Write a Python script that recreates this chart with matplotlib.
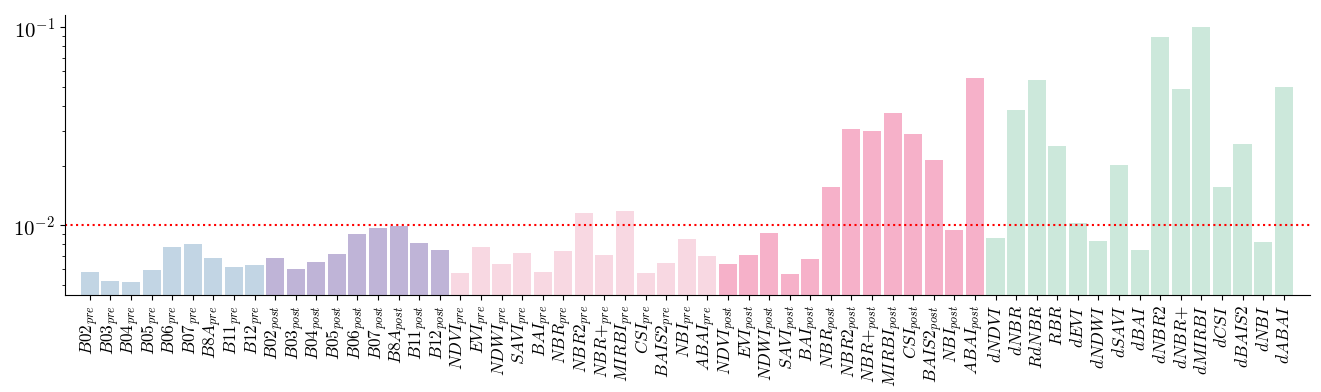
import numpy as np
import matplotlib
matplotlib.use('Agg')
import matplotlib.pyplot as plt

plt.rcParams['mathtext.fontset'] = 'cm'
plt.rcParams['font.family'] = 'serif'
plt.rcParams['font.serif'] = ['cmr10', 'DejaVu Serif']
plt.rcParams['axes.formatter.use_mathtext'] = True

bands = ['B02', 'B03', 'B04', 'B05', 'B06', 'B07', 'B8A', 'B11', 'B12']
indices = ['NDVI', 'EVI', 'NDWI', 'SAVI', 'BAI', 'NBR', 'NBR2', 'NBR+',
           'MIRBI', 'CSI', 'BAIS2', 'NBI', 'ABAI']
deltas = ['dNDVI', 'dNBR', 'RdNBR', 'RBR', 'dEVI', 'dNDWI', 'dSAVI', 'dBAI',
          'dNBR2', 'dNBR+', 'dMIRBI', 'dCSI', 'dBAIS2', 'dNBI', 'dABAI']

bands_pre = [0.00579, 0.00521, 0.00515, 0.00593, 0.00774, 0.00802, 0.00681, 0.00614, 0.00628]
bands_post = [0.00681, 0.00600, 0.00650, 0.00714, 0.00901, 0.00966, 0.00988, 0.00811, 0.00748]
idx_pre = [0.00573, 0.00774, 0.00635, 0.00722, 0.00579, 0.00739, 0.0115, 0.00706,
           0.01177, 0.00573, 0.00643, 0.00850, 0.00697]
idx_post = [0.00635, 0.00706, 0.00911, 0.00567, 0.00673, 0.01556, 0.0305, 0.0299,
            0.0368, 0.0289, 0.0213, 0.00944, 0.0553]
delta_vals = [0.0086, 0.0381, 0.0540, 0.0251, 0.0102, 0.0083, 0.0201, 0.00748,
              0.0889, 0.0486, 0.1000, 0.01556, 0.0257, 0.0082, 0.0498]

threshold = 0.01

def lab(name, sub=None):
    s = name.replace('+', '{+}')
    if sub:
        return '$%s_{%s}$' % (s, sub)
    return '$%s$' % s

labels = ([lab(b, 'pre') for b in bands] + [lab(b, 'post') for b in bands]
          + [lab(i, 'pre') for i in indices] + [lab(i, 'post') for i in indices]
          + [lab(d) for d in deltas])
values = bands_pre + bands_post + idx_pre + idx_post + delta_vals
colors = (['#c2d5e4'] * len(bands) + ['#bfb4d7'] * len(bands)
          + ['#f8d8e2'] * len(indices) + ['#f6b1c9'] * len(indices)
          + ['#cce8db'] * len(deltas))

fig = plt.figure(figsize=(13.21, 3.92), dpi=100)
ax = fig.add_axes([0.049, 0.247, 0.943, 0.715])

x = np.arange(len(values))
ax.bar(x, values, width=0.88, color=colors)
ax.axhline(threshold, color='red', linestyle=':', linewidth=1.5)

ax.set_yscale('log')
ax.set_ylim(0.00443, 0.1153)
ax.set_xlim(-1.22, len(values) + 0.3)
ax.set_xticks(x)
ax.set_xticklabels(labels, rotation=90, fontsize=12.5)
ax.tick_params(axis='y', labelsize=15)

ax.spines['top'].set_visible(False)
ax.spines['right'].set_visible(False)

fig.savefig('out.png', dpi=100)
